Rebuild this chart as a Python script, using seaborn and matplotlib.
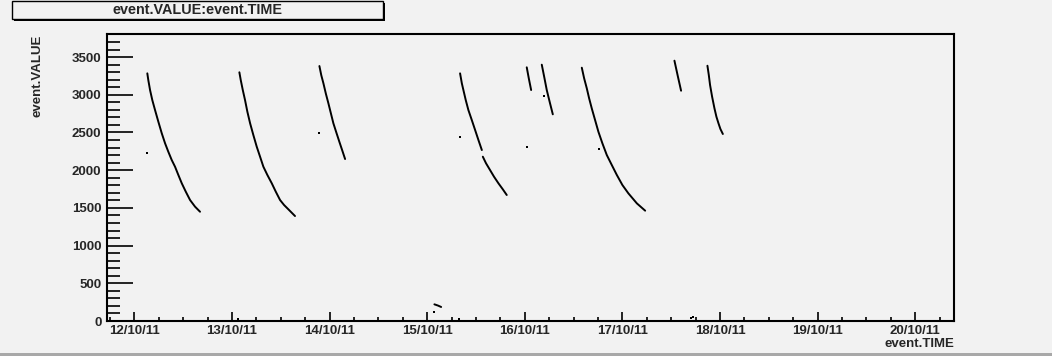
import numpy as np
import pandas as pd
import seaborn as sns
import matplotlib.pyplot as plt
import matplotlib.dates as mdates
from matplotlib.ticker import MultipleLocator
from matplotlib.patches import Rectangle

# days after 12/10/11 00:00 and the value read at that time
seg1_t = [0.133, 0.143, 0.161, 0.184, 0.212, 0.246, 0.281, 0.315, 0.348, 0.383, 0.417,
          0.451, 0.486, 0.527, 0.571, 0.622, 0.673]
seg1_v = [3284, 3196, 3063, 2930, 2798, 2643, 2489, 2356, 2245, 2135, 2046,
          1936, 1826, 1715, 1604, 1516, 1449]
seg2_t = [1.076, 1.090, 1.111, 1.134, 1.158, 1.186, 1.219, 1.254, 1.288, 1.322, 1.363,
          1.408, 1.449, 1.493, 1.534, 1.578, 1.646]
seg2_v = [3298, 3196, 3063, 2930, 2775, 2622, 2467, 2311, 2179, 2046, 1936,
          1826, 1715, 1604, 1538, 1481, 1392]
seg3_t = [1.896, 1.915, 1.937, 1.962, 1.988, 2.039, 2.070, 2.100, 2.130, 2.159]
seg3_v = [3381, 3260, 3152, 3015, 2887, 2622, 2497, 2378, 2262, 2148]
seg4a_t = [3.337, 3.355, 3.371, 3.395, 3.422, 3.457, 3.491, 3.525, 3.560]
seg4a_v = [3284, 3152, 3063, 2930, 2798, 2665, 2533, 2400, 2267]
seg4b_t = [3.570, 3.603, 3.644, 3.685, 3.730, 3.775, 3.815]
seg4b_v = [2179, 2091, 2002, 1913, 1826, 1746, 1671]
seg5_t = [4.020, 4.041, 4.065]
seg5_v = [3364, 3218, 3063]
seg6_t = [4.174, 4.200, 4.225, 4.256, 4.287]
seg6_v = [3399, 3230, 3063, 2900, 2741]
seg7_t = [4.584, 4.608, 4.635, 4.659, 4.686, 4.720, 4.754, 4.795, 4.840, 4.891, 4.943,
          5.000, 5.061, 5.148, 5.233]
seg7_v = [3359, 3218, 3086, 2953, 2820, 2665, 2510, 2356, 2201, 2069, 1936,
          1803, 1693, 1560, 1463]
seg8_t = [5.533, 5.567, 5.601]
seg8_v = [3452, 3250, 3054]
seg9_t = [5.871, 5.885, 5.898, 5.919, 5.943, 5.963, 5.984, 6.004, 6.029]
seg9_v = [3385, 3262, 3129, 2974, 2820, 2709, 2622, 2546, 2480]
low_t = [3.074, 3.110, 3.143]
low_v = [221, 205, 186]

# isolated points
dots_t = [0.133, 1.896, 3.337, 4.020, 4.201, 4.761, 3.068, 1.066, 3.330, 5.700, 5.727]
dots_v = [2232, 2497, 2436, 2311, 2988, 2281, 119, 27, 22, 44, 49]

segments = [(seg1_t, seg1_v), (seg2_t, seg2_v), (seg3_t, seg3_v), (seg4a_t, seg4a_v),
            (seg4b_t, seg4b_v), (seg5_t, seg5_v), (seg6_t, seg6_v), (seg7_t, seg7_v),
            (seg8_t, seg8_v), (seg9_t, seg9_v), (low_t, low_v)]

t0 = pd.Timestamp('2011-10-12')
rows = []
for i, (ts, vs) in enumerate(segments):
    for t, v in zip(ts, vs):
        rows.append({'TIME': t0 + pd.to_timedelta(t, unit='D'), 'VALUE': v, 'seg': i})
df = pd.DataFrame(rows)
dots = pd.DataFrame({'TIME': [t0 + pd.to_timedelta(t, unit='D') for t in dots_t], 'VALUE': dots_v})

bg = '#f2f2f2'
sns.set_theme(style='ticks')
plt.rcParams['font.family'] = ['Liberation Sans', 'DejaVu Sans']
plt.rcParams['font.weight'] = 'bold'

fig = plt.figure(figsize=(10.52, 3.56), dpi=100, facecolor=bg)
ax = fig.add_axes([107 / 1052, 1 - 321 / 356, (954.3 - 107) / 1052, (321 - 34.3) / 356])
ax.set_facecolor(bg)

sns.lineplot(data=df, x='TIME', y='VALUE', units='seg', estimator=None, color='black',
             linewidth=1.4, ax=ax, legend=False, solid_joinstyle='round')
sns.scatterplot(data=dots, x='TIME', y='VALUE', color='black', marker='s', s=3,
                linewidth=0, ax=ax, legend=False)

ax.set_xlim(t0 - pd.Timedelta(days=0.28), t0 + pd.Timedelta(days=8.40))
ax.set_ylim(0, 3802)
ax.xaxis.set_major_locator(mdates.DayLocator())
ax.xaxis.set_minor_locator(mdates.HourLocator(byhour=[6, 12, 18]))
ax.xaxis.set_major_formatter(mdates.DateFormatter('%d/%m/%y'))
ax.yaxis.set_major_locator(MultipleLocator(500))
ax.yaxis.set_minor_locator(MultipleLocator(100))
ax.tick_params(axis='y', which='major', direction='in', length=19, width=1.2,
               labelsize=9.5, pad=4, color='black')
ax.tick_params(axis='y', which='minor', direction='in', length=9.5, width=1.2, color='black')
ax.tick_params(axis='x', which='major', direction='in', length=6.5, width=1.2,
               labelsize=9.5, pad=3, color='black')
ax.tick_params(axis='x', which='minor', direction='in', length=3.2, width=1.2, color='black')
for lab in ax.get_xticklabels() + ax.get_yticklabels():
    lab.set_fontweight('bold')
for sp in ax.spines.values():
    sp.set_visible(True)
    sp.set_color('black')
    sp.set_linewidth(1.5)
ax.set_xlabel('')
ax.set_ylabel('')

fig.text(38 / 1052, 1 - 34.5 / 356, 'event.VALUE', rotation=90, ha='center', va='top',
         fontsize=9.5, fontweight='bold')
fig.text(954 / 1052, 1 - 344 / 356, 'event.TIME', ha='right', va='center',
         fontsize=9.5, fontweight='bold')

# title box with shadow
fig.patches.append(Rectangle((14 / 1052, 1 - 21 / 356), 371 / 1052, 18 / 356,
                             transform=fig.transFigure, facecolor='black', edgecolor='none'))
fig.patches.append(Rectangle((12 / 1052, 1 - 19 / 356), 371 / 1052, 18 / 356,
                             transform=fig.transFigure, facecolor=bg, edgecolor='black', linewidth=1))
fig.text(197.5 / 1052, 1 - 10 / 356, 'event.VALUE:event.TIME', ha='center', va='center',
         fontsize=10.4, fontweight='bold')

# canvas border
fig.patches.append(Rectangle((0, 0), 1, 3 / 356, transform=fig.transFigure,
                             facecolor='#a8a8a8', edgecolor='none'))

fig.savefig('out.png', dpi=100, facecolor=bg)
